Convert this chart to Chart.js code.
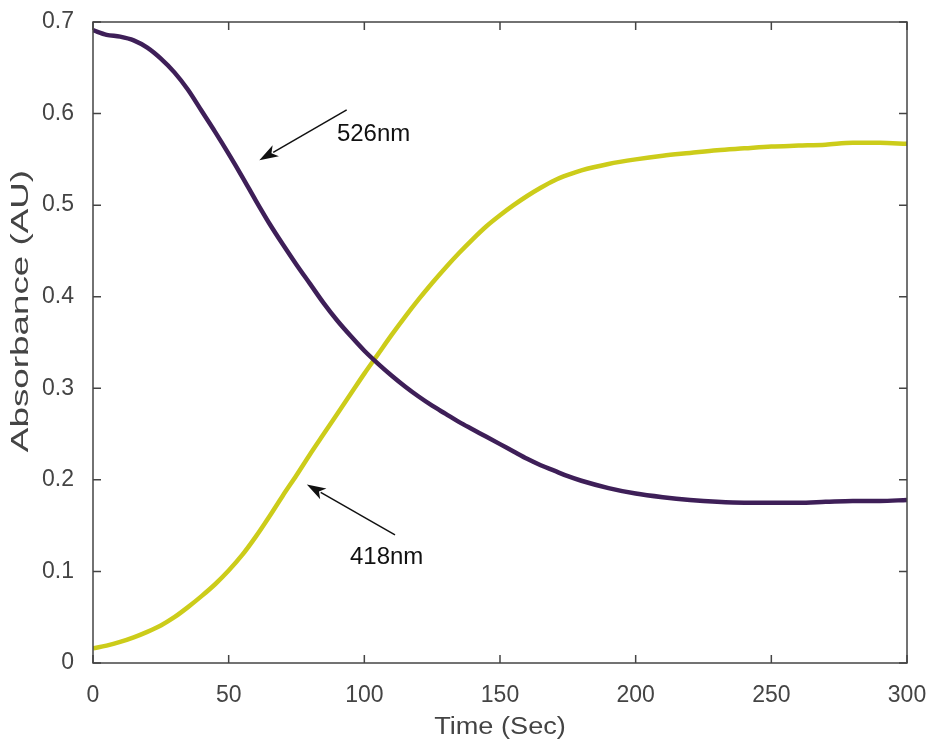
<!DOCTYPE html>
<html>
<head>
<meta charset="utf-8">
<script src="https://cdn.jsdelivr.net/npm/chart.js@4"></script>
<style>
  body { margin: 0; background: #fff; }
  #wrap { width: 929px; height: 743px; }
</style>
</head>
<body>
<div id="wrap"><canvas id="chart"></canvas></div>
<script>
const times = [0,5,10,15,20,25,30,35,40,45,50,55,60,65,70,75,80,85,90,95,100,105,110,115,120,125,130,135,140,145,150,155,160,165,170,175,180,190,200,210,220,230,240,250,260,270,280,290,300];
const abs526 = [0.691,0.686,0.684,0.680,0.672,0.660,0.645,0.626,0.603,0.580,0.556,0.531,0.505,0.480,0.457,0.435,0.414,0.393,0.374,0.357,0.341,0.327,0.314,0.302,0.291,0.281,0.272,0.263,0.255,0.247,0.239,0.231,0.223,0.216,0.210,0.204,0.199,0.191,0.185,0.181,0.178,0.176,0.175,0.175,0.175,0.176,0.177,0.177,0.178];
const abs418 = [0.016,0.019,0.023,0.028,0.034,0.041,0.050,0.061,0.073,0.086,0.101,0.118,0.138,0.160,0.183,0.205,0.228,0.250,0.272,0.294,0.316,0.337,0.358,0.378,0.397,0.415,0.432,0.448,0.463,0.477,0.489,0.500,0.510,0.519,0.527,0.533,0.538,0.545,0.550,0.554,0.557,0.560,0.562,0.564,0.565,0.566,0.568,0.568,0.567];
const xTicks = [0,50,100,150,200,250,300];
const yTicks = [0,0.1,0.2,0.3,0.4,0.5,0.6,0.7];

// arrows: [tailX, tailY, headX, headY, label, labelX, labelY]
const notes = [
  [93.5, 0.604, 61.3, 0.549, '526nm', 89.9, 0.577],
  [111.3, 0.140, 78.8, 0.195, '418nm', 94.7, 0.115]
];

const ctx = document.getElementById('chart').getContext('2d');
const axisColor = '#444';
const fontFam = '"Liberation Sans", Arial, sans-serif';

const boxPlugin = {
  id: 'box',
  afterDatasetsDraw(chart) {
    const {ctx, chartArea: a, scales: {x, y}} = chart;
    ctx.save();
    ctx.strokeStyle = axisColor;
    ctx.lineWidth = 1.5;
    ctx.strokeRect(a.left, a.top, a.right - a.left, a.bottom - a.top);
    ctx.beginPath();
    xTicks.forEach(t => {
      const px = x.getPixelForValue(t);
      ctx.moveTo(px, a.bottom); ctx.lineTo(px, a.bottom - 8);
      ctx.moveTo(px, a.top); ctx.lineTo(px, a.top + 8);
    });
    yTicks.forEach(t => {
      const py = y.getPixelForValue(t);
      ctx.moveTo(a.left, py); ctx.lineTo(a.left + 8, py);
      ctx.moveTo(a.right, py); ctx.lineTo(a.right - 8, py);
    });
    ctx.stroke();

    // arrows + labels
    ctx.strokeStyle = '#111';
    ctx.fillStyle = '#111';
    ctx.lineWidth = 1.5;
    ctx.font = '24px ' + fontFam;
    ctx.textBaseline = 'middle';
    notes.forEach(n => {
      const x0 = x.getPixelForValue(n[0]), y0 = y.getPixelForValue(n[1]);
      const x1 = x.getPixelForValue(n[2]), y1 = y.getPixelForValue(n[3]);
      const ang = Math.atan2(y1 - y0, x1 - x0);
      const len = 20, w = 0.32;
      ctx.beginPath();
      ctx.moveTo(x0, y0);
      ctx.lineTo(x1 - Math.cos(ang) * len * 0.8, y1 - Math.sin(ang) * len * 0.8);
      ctx.stroke();
      ctx.beginPath();
      ctx.moveTo(x1, y1);
      ctx.lineTo(x1 - len * Math.cos(ang - w), y1 - len * Math.sin(ang - w));
      ctx.lineTo(x1 - len * 0.7 * Math.cos(ang), y1 - len * 0.7 * Math.sin(ang));
      ctx.lineTo(x1 - len * Math.cos(ang + w), y1 - len * Math.sin(ang + w));
      ctx.closePath();
      ctx.fill();
      ctx.textAlign = 'left';
      ctx.fillText(n[4], x.getPixelForValue(n[5]), y.getPixelForValue(n[6]));
    });

    // axis titles (stretched like the source figure)
    ctx.fillStyle = axisColor;
    ctx.textAlign = 'center';
    ctx.font = '23px ' + fontFam;
    ctx.save();
    ctx.translate((a.left + a.right) / 2, 728);
    ctx.scale(1.18, 1);
    ctx.fillText('Time (Sec)', 0, 0);
    ctx.restore();
    ctx.save();
    ctx.translate(22, 311);
    ctx.rotate(-Math.PI / 2);
    ctx.scale(1.6, 1);
    ctx.fillText('Absorbance (AU)', 0, 0);
    ctx.restore();
    ctx.restore();
  }
};

const lineSet = (label, vals, color) => ({
  label,
  data: times.map((t, i) => ({x: t, y: vals[i]})),
  borderColor: color,
  borderWidth: 4.5,
  pointRadius: 0,
  cubicInterpolationMode: 'monotone'
});

const myChart = new Chart(ctx, {
  type: 'line',
  data: {
    datasets: [
      lineSet('526nm', abs526, '#3e1f58'),
      lineSet('418nm', abs418, '#cccc1a')
    ]
  },
  options: {
    responsive: true,
    maintainAspectRatio: false,
    animation: false,
    layout: { padding: { left: 0, right: 22, top: 22, bottom: 0 } },
    plugins: { legend: { display: false }, tooltip: { enabled: false } },
    scales: {
      x: {
        type: 'linear',
        min: 0, max: 300,
        afterFit: s => { s.height = 80; s.paddingLeft = 0; s.paddingRight = 0; },
        afterBuildTicks: s => { s.ticks = xTicks.map(v => ({value: v})); },
        grid: { display: false },
        border: { display: false },
        ticks: { color: axisColor, padding: 11, font: { size: 23, family: fontFam }, maxRotation: 0 }
      },
      y: {
        min: 0, max: 0.7,
        afterFit: s => { s.width = 93; s.paddingTop = 0; s.paddingBottom = 0; },
        afterBuildTicks: s => { s.ticks = yTicks.map(v => ({value: v})); },
        grid: { display: false },
        border: { display: false },
        ticks: {
          color: axisColor, padding: 11,
          font: { size: 23, family: fontFam },
          callback: v => v === 0 ? '0' : v.toFixed(1)
        }
      }
    }
  },
  plugins: [boxPlugin]
});
</script>
</body>
</html>
